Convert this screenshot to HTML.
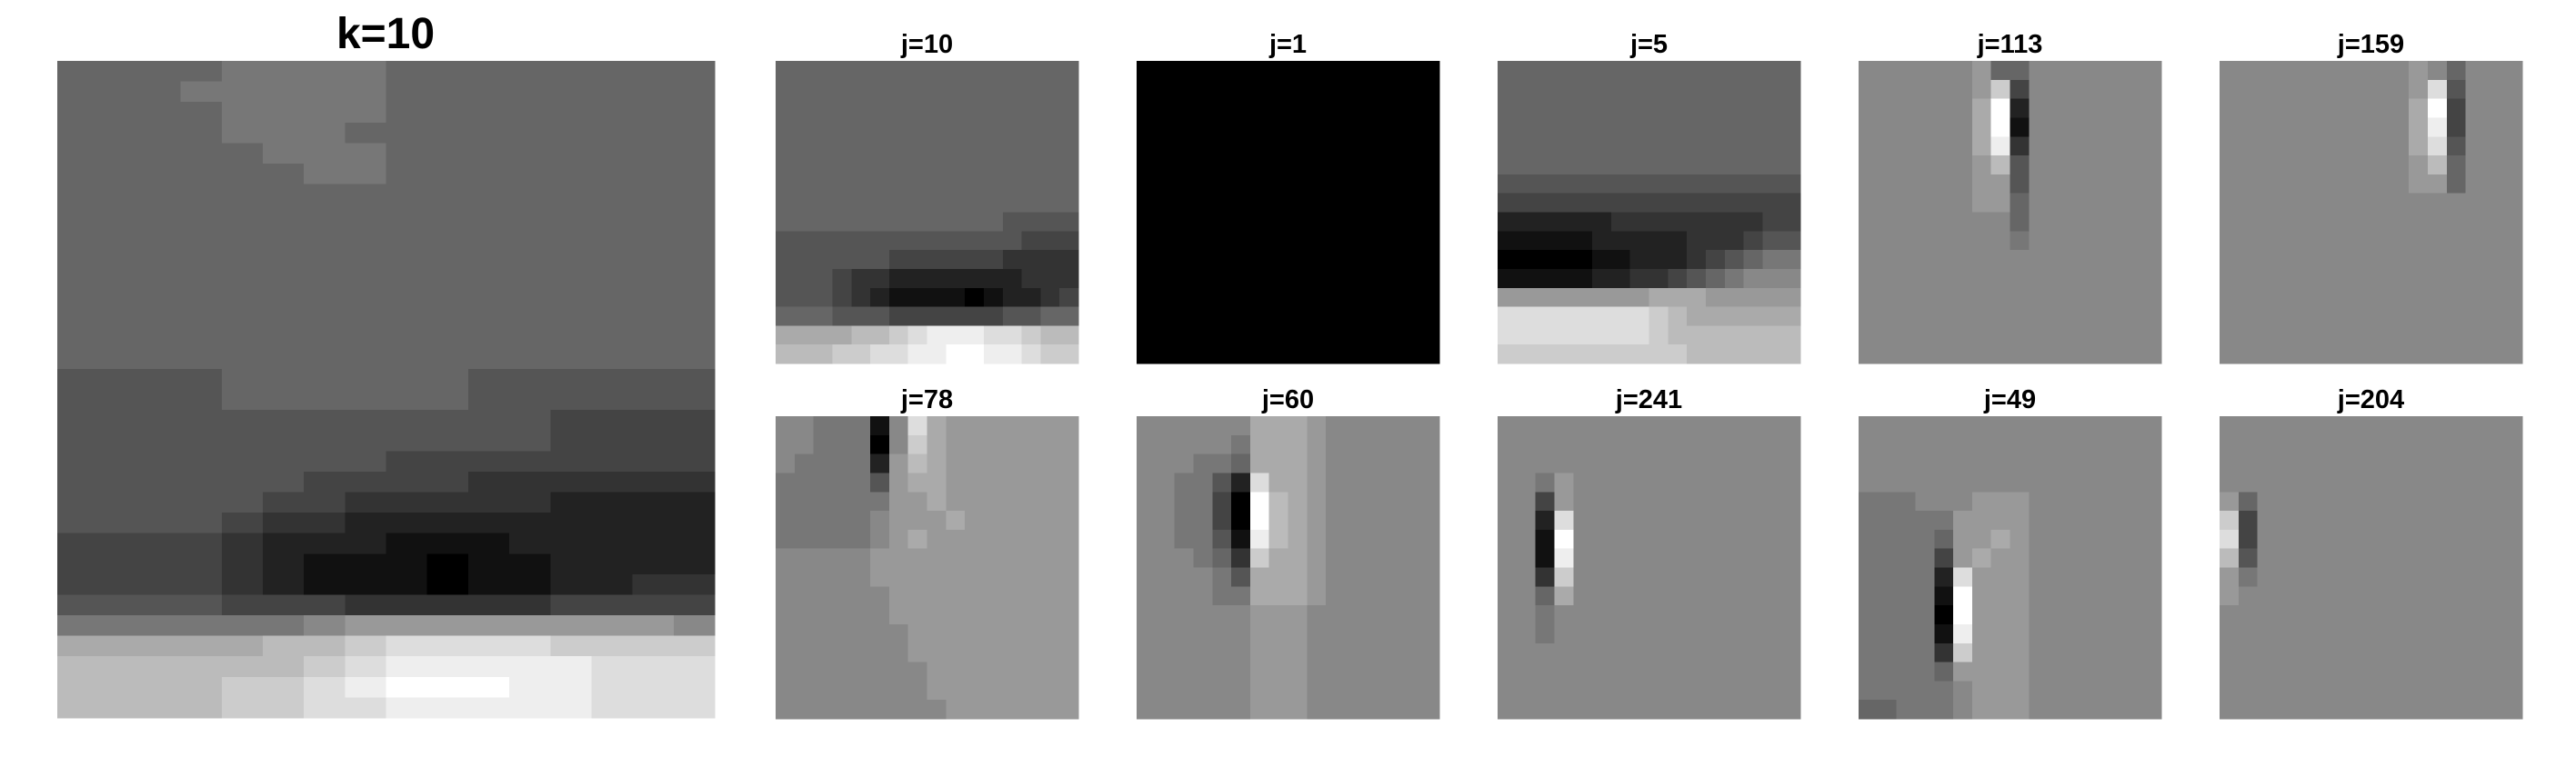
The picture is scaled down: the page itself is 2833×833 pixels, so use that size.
<!DOCTYPE html>
<html><head><meta charset="utf-8"><style>
html,body{margin:0;padding:0;background:#fff;}
svg{display:block;}
text{font-family:"Liberation Sans",sans-serif;font-weight:bold;fill:#000;}
</style></head><body>
<svg id="fig" width="2833" height="833" viewBox="0 0 2833 833" xmlns="http://www.w3.org/2000/svg"></svg>
<script>
// ---- data: grey levels (hex 0-f), rows top->bottom ----
const mainTitle = "k=10";
const mainRows = [
"6666777766666666","6667777766666666","6666777766666666","6666777666666666","6666677766666666","6666667766666666","6666666666666666",
"6666666666666666","6666666666666666","6666666666666666","6666666666666666","6666666666666666","6666666666666666","6666666666666666","6666666666666666",
"5555666666555555","5555666666555555","5555555555554444","5555555555554444","5555555544444444","5555554444333333","5555544333332222",
"5555433222222222","4444322211122222","4444321110112222","4444321110112233","5555444333334444","7777778999999998",
"aaaaabbcddddcccc","bbbbbbcdeeeeeddd","bbbbccdefffeeddd","bbbbccddeeeeeddd"];
const panelTitles = ["j=10","j=1","j=5","j=113","j=159","j=78","j=60","j=241","j=49","j=204"];
const B = "8888888888888888";
const p_j10 = [B.replace(/8/g,"6"),"6666666666666666","6666666666666666","6666666666666666","6666666666666666","6666666666666666","6666666666666666","6666666666666666",
"6666666666665555","5555555555555444","5555554444443333","5554332222222333","5554321111012234","6665554444445566","aaaabbcdeeeddcbb","bbbccddeeffeedcc"];
const p_j1 = Array(16).fill("0000000000000000");
const p_j5 = ["6666666666666666","6666666666666666","6666666666666666","6666666666666666","6666666666666666","6666666666666666","5555555555555555","4444444444444444",
"2222223333333344","1111122222333455","0000011222345677","1111122334567888","99999999aaa99999","ddddddddcbaaaaaa","ddddddddcbbbbbbb","ccccccccccbbbbbb"];
const p_j113 = ["8888889668888888","8888889c48888888","888888af28888888","888888af18888888","888888ae38888888","8888889b58888888","8888889958888888","8888889968888888",
"8888888868888888","8888888878888888",B,B,B,B,B,B];
const p_j159 = ["8888888888986888","88888888889d5888","8888888888af4888","8888888888ae4888","8888888888ad5888","88888888889b6888","8888888888996888",B,B,B,B,B,B,B,B,B];
const p_j78 = ["8877718da9999999","8877708ca9999999","8777729ba9999999","7777759aa9999999","77777799a9999999","777778999a999999","7777789a99999999",
"8888899999999999","8888899999999999","8888889999999999","8888889999999999","8888888999999999","8888888999999999","8888888899999999","8888888899999999","8888888889999999"];
const p_j60 = ["888888aaa9888888","888887aaa9888888","888776aaa9888888","887752daa9888888","887740fba9888888","887740fba9888888","887751eba9888888","888763caa9888888",
"888875aaa9888888","888877aaa9888888","8888889998888888","8888889998888888","8888889998888888","8888889998888888","8888889998888888","8888889998888888"];
const p_j241 = [B,B,B,"8879888888888888","8849888888888888","882d888888888888","881f888888888888","881e888888888888","883c888888888888","886a888888888888","8878888888888888","8878888888888888",B,B,B,B];
const p_j49 = [B,B,B,B,"7778889998888888","7777799998888888","7777699a98888888","777749a998888888","77772d9998888888","77771f9998888888","77770f9998888888","77771e9998888888",
"77773c9998888888","7777699998888888","7777789998888888","6677789998888888"];
const p_j204 = [B,B,B,B,"9688888888888888","c488888888888888","d488888888888888","b588888888888888","9788888888888888","9888888888888888",B,B,B,B,B,B];
const panelData = [p_j10,p_j1,p_j5,p_j113,p_j159,p_j78,p_j60,p_j241,p_j49,p_j204];

const NS = "http://www.w3.org/2000/svg";
const svg = document.getElementById("fig");
function grey(ch){ const v = parseInt(ch,16)*17; return "rgb("+v+","+v+","+v+")"; }
function drawImage(rows, x0, y0, w, h, name){
  const g = document.createElementNS(NS,"g");
  
  
  g.setAttribute("shape-rendering","crispEdges");
  const nr = rows.length, nc = rows[0].length;
  for(let r=0;r<nr;r++){
    for(let c=0;c<nc;c++){
      const rc = document.createElementNS(NS,"rect");
      const xa = x0 + w*c/nc, xb = x0 + w*(c+1)/nc;
      const ya = y0 + h*r/nr, yb = y0 + h*(r+1)/nr;
      rc.setAttribute("x", xa.toFixed(2)); rc.setAttribute("y", ya.toFixed(2));
      rc.setAttribute("width", (xb-xa+0.6).toFixed(2)); rc.setAttribute("height", (yb-ya+0.6).toFixed(2));
      rc.setAttribute("fill", grey(rows[r][c]));
      
      
      g.appendChild(rc);
    }
  }
  svg.appendChild(g);
}
function drawTitle(txt, cx, y, size, name){
  const t = document.createElementNS(NS,"text");
  t.setAttribute("x", cx); t.setAttribute("y", y);
  t.setAttribute("font-size", size); t.setAttribute("text-anchor","middle");
  t.textContent = txt;
  
  
  svg.appendChild(t);
}
// main panel
drawImage(mainRows, 63, 67, 723, 723, "main-image-k10");
drawTitle(mainTitle, 424, 53, 48, "main-title");
// small panels
const colX = [853,1250,1647,2044,2441];
const rowY = [67,458];
const PW = 333, PH = 333;
for(let i=0;i<panelData.length;i++){
  const cx = colX[i%5], cy = rowY[Math.floor(i/5)];
  drawImage(panelData[i], cx, cy, PW, PH, "panel-image-"+panelTitles[i].replace("=",""));
  drawTitle(panelTitles[i], cx+PW/2, cy-9, 29, "panel-title-"+panelTitles[i].replace("=",""));
}
</script>
</body></html>
